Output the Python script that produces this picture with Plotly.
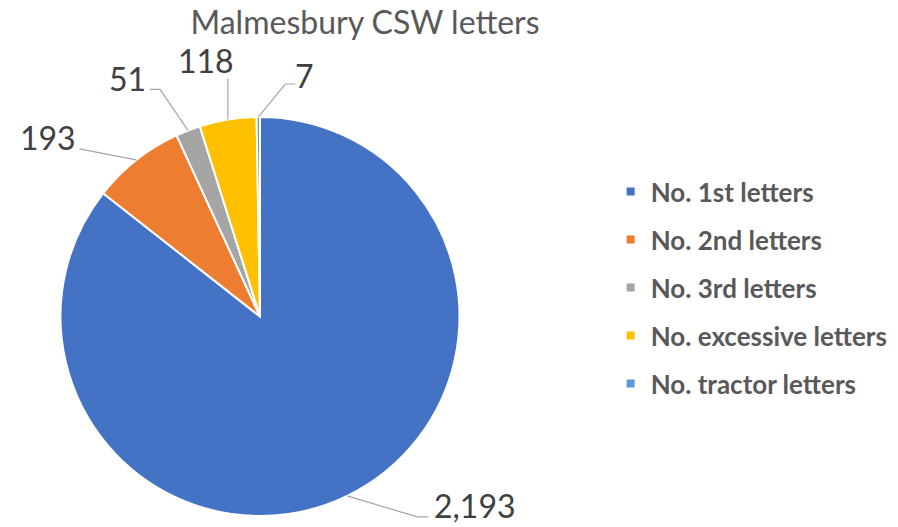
import math
import plotly.graph_objects as go

# ---- data ----
categories = ["No. 1st letters", "No. 2nd letters", "No. 3rd letters",
              "No. excessive letters", "No. tractor letters"]
values = [2193, 193, 51, 118, 7]
colors = ["#4472C4", "#ED7D31", "#A5A5A5", "#FFC000", "#5B9BD5"]
title_text = "Malmesbury CSW letters"

# ---- layout constants (pixels) ----
W, H = 898, 527
CX, CY, R = 260, 316.5, 199.5
# leader-line points and text placement, relative to slice edge midpoint
leader_pts = [
    [(70, 21), (81, 21)],
    [(-57, -11)],
    [(-28, -41), (-38, -41)],
    [(0, -41)],
    [(27, -33), (37, -33)],
]
text_off = [(85, 10, "left"), (-58, -22, "right"), (-40, -52, "right"),
            (-22, -59, "center"), (35, -42, "left")]

def px(x, y):
    return x / W, 1 - y / H

fig = go.Figure()
fig.add_trace(go.Pie(
    labels=categories, values=values, sort=False, direction="clockwise",
    rotation=0, marker=dict(colors=colors, line=dict(color="white", width=2)),
    textinfo="none", hoverinfo="label+value", showlegend=False,
    domain=dict(x=[(CX - R) / W, (CX + R) / W], y=[1 - (CY + R) / H, 1 - (CY - R) / H]),
))

# legend entries
for cat, col in zip(categories, colors):
    fig.add_trace(go.Scatter(x=[None], y=[None], mode="markers", name=cat,
                             legendgroup=cat,
                             marker=dict(symbol="square", size=8, color=col)))

total = sum(values)
cum = 0
shapes, annotations = [], []
for i, v in enumerate(values):
    mid = (cum + v / 2) / total * 2 * math.pi
    cum += v
    ax_, ay_ = CX + R * math.sin(mid), CY - R * math.cos(mid)
    pts = [(ax_, ay_)] + [(ax_ + dx, ay_ + dy) for dx, dy in leader_pts[i]]
    path = "M " + " L ".join("%f,%f" % px(x, y) for x, y in pts)
    shapes.append(dict(type="path", xref="paper", yref="paper", path=path,
                       line=dict(color="#A6A6A6", width=1.2)))
    dx, dy, anc = text_off[i]
    tx, ty = px(ax_ + dx, ay_ + dy)
    annotations.append(dict(x=tx, y=ty, xref="paper", yref="paper",
                            text=f"{v:,}", showarrow=False, xanchor=anc,
                            yanchor="middle",
                            font=dict(size=32, color="#404040", family="Lato")))

fig.update_layout(
    width=W, height=H, margin=dict(l=0, r=0, t=0, b=0),
    paper_bgcolor="white", plot_bgcolor="white",
    title=dict(text=title_text, x=365 / W, xanchor="center", y=1 - 23 / H,
               yanchor="middle", font=dict(size=32, color="#595959", family="Lato")),
    xaxis=dict(visible=False), yaxis=dict(visible=False),
    legend=dict(x=0.68, xanchor="left", y=1 - 168 / H, yanchor="top",
                tracegroupgap=11.2, bgcolor="rgba(0,0,0,0)",
                font=dict(size=26, color="#595959", family="Lato", weight="bold")),
    shapes=shapes, annotations=annotations,
)

fig.write_html("out.html", config={"displayModeBar": False},
               post_script="document.body.style.margin='0';document.body.style.overflow='hidden';")
